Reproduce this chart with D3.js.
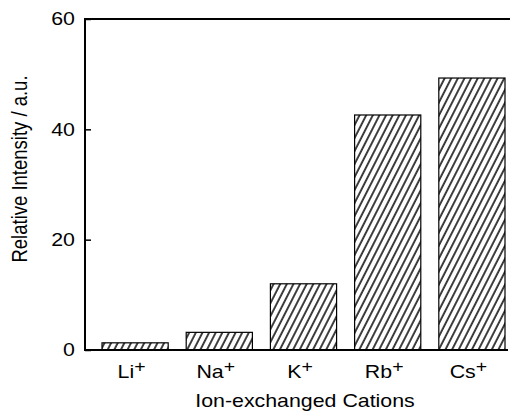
<!DOCTYPE html>
<html><head><meta charset="utf-8">
<script src="https://cdn.jsdelivr.net/npm/d3@7"></script>
<style>body{margin:0;background:#fff}svg{display:block}text{font-family:"Liberation Sans",Arial,sans-serif;fill:#000}</style>
</head><body><svg id="c" width="510" height="414"></svg>
<script>
const categories = ["Li", "Na", "K", "Rb", "Cs"];
const values = [1.3, 3.2, 12.0, 42.6, 49.3];
const yTicks = [0, 20, 40, 60];
const xTitle = "Ion-exchanged Cations";
const yTitle = "Relative Intensity / a.u.";

(function () {
const svg = d3.select("#c");
const pL = 85, pT = 19, pB = 350, pR = 508;
const SX = 1.22, FS = 17.5;
const x = d3.scaleBand().domain(categories).range([102, 505]).paddingInner(0.214).paddingOuter(0);
const y = d3.scaleLinear().domain([0, 60]).range([pB, pT]);

const defs = svg.append("defs");
const pat = defs.append("pattern").attr("id", "hatch").attr("patternUnits", "userSpaceOnUse")
  .attr("width", 5.9).attr("height", 10).attr("patternTransform", "rotate(27)");
pat.append("rect").attr("width", 5.9).attr("height", 10).attr("fill", "#fff");
pat.append("line").attr("x1", 1).attr("y1", 0).attr("x2", 1).attr("y2", 10).attr("stroke", "#000").attr("stroke-width", 1.5);

svg.selectAll("rect.bar").data(categories).enter().append("rect").attr("class", "bar")
  .attr("x", d => x(d)).attr("width", x.bandwidth())
  .attr("y", (d, i) => y(values[i])).attr("height", (d, i) => y(0) - y(values[i]))
  .attr("fill", "url(#hatch)").attr("stroke", "#000").attr("stroke-width", 1.2);

const ya = svg.append("g").attr("transform", `translate(${pL},0)`)
  .call(d3.axisLeft(y).tickValues(yTicks).tickSizeInner(-6).tickSizeOuter(0).tickFormat(""));
ya.select(".domain").remove();
ya.selectAll(".tick line").attr("stroke", "#000").attr("stroke-width", 1.5);
ya.selectAll(".tick text").remove();

svg.append("g").selectAll("text").data(yTicks).enter().append("text")
  .attr("transform", d => `translate(75,${y(d) + 0.358 * FS}) scale(${SX},1)`)
  .attr("text-anchor", "end").attr("font-size", FS).text(d => d);

svg.append("line").attr("x1", pL).attr("x2", pL).attr("y1", pT - 1).attr("y2", pB + 1).attr("stroke", "#000").attr("stroke-width", 2);
svg.append("line").attr("x1", pL - 1).attr("x2", 510).attr("y1", pT).attr("y2", pT).attr("stroke", "#000").attr("stroke-width", 2);
svg.append("line").attr("x1", pL - 1).attr("x2", pR).attr("y1", pB).attr("y2", pB).attr("stroke", "#000").attr("stroke-width", 2);

const xl = svg.append("g").selectAll("text").data(categories).enter().append("text")
  .attr("transform", d => `translate(${x(d) + x.bandwidth() / 2 - 3.5},378) scale(${SX},1)`)
  .attr("text-anchor", "middle").attr("font-size", FS);
xl.append("tspan").text(d => d);
xl.append("tspan").text("+").attr("dy", -6).attr("font-size", 16);

svg.append("text").attr("transform", `translate(305,406.5) scale(${SX},1)`).attr("text-anchor", "middle").attr("font-size", FS).text(xTitle);
svg.append("text").attr("transform", `translate(27,169) scale(${SX},1) rotate(-90)`).attr("text-anchor", "middle").attr("font-size", 18.5).text(yTitle);
})();
</script></body></html>
